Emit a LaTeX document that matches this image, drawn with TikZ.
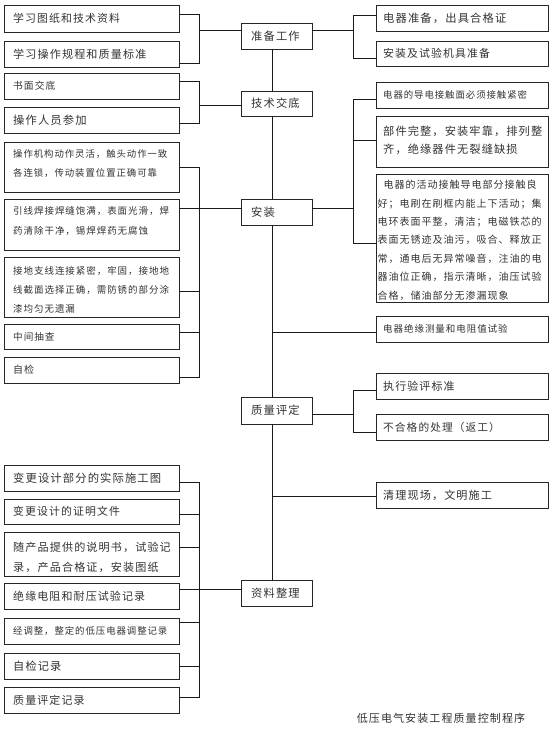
\documentclass[tikz,border=0pt]{standalone}
\usepackage{fontspec}
\setmainfont[LetterSpace=10]{Noto Sans CJK SC}
\usetikzlibrary{calc}
\newcommand\F[2]{\fontsize{#1}{#2}\selectfont}
\newcommand\BX[5]{\node[frame, minimum width={#4pt-#2pt}, minimum height={#5pt-#3pt}] (#1) at (#2,#3) {};}
\begin{document}
\begin{tikzpicture}[x=1pt,y=-1pt,
  frame/.style={draw=black!85, line width=0.8pt, inner sep=0pt, outer sep=0pt, anchor=north west},
  conn/.style={draw=black!90, line width=0.8pt},
  txt/.style={inner sep=0pt, align=left, text=black!80}]
\fill[white] (0,0) rectangle (554,735);
\useasboundingbox (0,0) rectangle (554,735);

% ---------- boxes ----------
% left column
\BX{L1}{4}{5}{179}{32}
\BX{L2}{4}{41}{179}{67}
\BX{L3}{4}{73}{179}{99}
\BX{L4}{4}{107}{179}{133}
\BX{L5}{4}{142}{179}{192}
\BX{L6}{4}{199}{179}{250}
\BX{L7}{4}{257}{179}{317}
\BX{L8}{4}{324}{179}{349}
\BX{L9}{4}{357}{179}{383}
\BX{L10}{4}{465}{179}{491}
\BX{L11}{4}{499}{179}{524}
\BX{L12}{4}{532}{179}{576}
\BX{L13}{4}{583}{179}{609}
\BX{L14}{4}{618}{179}{644}
\BX{L15}{4}{653}{179}{679}
\BX{L16}{4}{687}{179}{713}
% centre column
\BX{zb}{241}{23}{312}{49}
\BX{js}{241}{91}{312}{116}
\BX{az}{241}{199}{312}{225}
\BX{zl}{241}{397}{312}{424}
\BX{zz}{241}{580}{312}{606}
% right column
\BX{R1}{376}{5}{548}{31}
\BX{R2}{376}{41}{548}{66}
\BX{RA}{376}{82}{548}{108}
\BX{RB}{376}{116}{548}{167}
\BX{RC}{376}{174}{548}{302}
\BX{RD}{376}{316}{548}{342}
\BX{RE}{376}{373}{548}{399}
\BX{RF}{376}{414}{548}{440}
\BX{RG}{376}{482}{548}{508}

% ---------- texts ----------
\node[txt, anchor=west, font=\F{10.9}{13}] (L1t) at ($(L1.west)+(9,0)$) {学习图纸和技术资料};
\node[txt, anchor=west, font=\F{11.1}{13}] (L2t) at ($(L2.west)+(9,0)$) {学习操作规程和质量标准};
\node[txt, anchor=west, font=\F{9.8}{13}] (L3t) at ($(L3.west)+(9,0)$) {书面交底};
\node[txt, anchor=west, font=\F{11.3}{13}] (L4t) at ($(L4.west)+(9,0)$) {操作人员参加};
\node[txt, anchor=north west, font=\F{9.4}{19}] (L5t) at ($(L5.north west)+(9,7.3)$) {操作机构动作灵活，触头动作一致\\各连锁，传动装置位置正确可靠};
\node[txt, anchor=north west, font=\F{9.5}{20}] (L6t) at ($(L6.north west)+(9,7.3)$) {引线焊接焊缝饱满，表面光滑，焊\\药清除干净，锡焊焊药无腐蚀};
\node[txt, anchor=north west, font=\F{9.5}{19}] (L7t) at ($(L7.north west)+(9,9.3)$) {接地支线连接紧密，牢固，接地地\\线截面选择正确，需防锈的部分涂\\漆均匀无遗漏};
\node[txt, anchor=west, font=\F{9.6}{13}] (L8t) at ($(L8.west)+(9,0)$) {中间抽查};
\node[txt, anchor=west, font=\F{10}{13}] (L9t) at ($(L9.west)+(9,0)$) {自检};
\node[txt, anchor=west, font=\F{11.3}{13}] (L10t) at ($(L10.west)+(9,0)$) {变更设计部分的实际施工图};
\node[txt, anchor=west, font=\F{10.9}{13}] (L11t) at ($(L11.west)+(9,0)$) {变更设计的证明文件};
\node[txt, anchor=north west, font=\F{11.1}{20}] (L12t) at ($(L12.north west)+(9,9.4)$) {随产品提供的说明书，试验记\\录，产品合格证，安装图纸};
\node[txt, anchor=west, font=\F{11}{13}] (L13t) at ($(L13.west)+(9,0)$) {绝缘电阻和耐压试验记录};
\node[txt, anchor=west, font=\F{9.4}{13}] (L14t) at ($(L14.west)+(9,0)$) {经调整，整定的低压电器调整记录};
\node[txt, anchor=west, font=\F{11.2}{13}] (L15t) at ($(L15.west)+(9,0)$) {自检记录};
\node[txt, anchor=west, font=\F{11}{13}] (L16t) at ($(L16.west)+(9,0)$) {质量评定记录};

\node[txt, anchor=west, font=\F{11.3}{13}] (zbt) at ($(zb.west)+(10,0)$) {准备工作};
\node[txt, anchor=west, font=\F{11.3}{13}] (jst) at ($(js.west)+(10,0)$) {技术交底};
\node[txt, anchor=west, font=\F{11.3}{13}] (azt) at ($(az.west)+(10,0)$) {安装};
\node[txt, anchor=west, font=\F{11.3}{13}] (zlt) at ($(zl.west)+(10,0)$) {质量评定};
\node[txt, anchor=west, font=\F{11.3}{13}] (zzt) at ($(zz.west)+(10,0)$) {资料整理};

\node[txt, anchor=west, font=\F{11.3}{13}] (R1t) at ($(R1.west)+(7,0)$) {电器准备，出具合格证};
\node[txt, anchor=west, font=\F{10.9}{13}] (R2t) at ($(R2.west)+(7,0)$) {安装及试验机具准备};
\node[txt, anchor=west, font=\F{9.4}{13}] (RAt) at ($(RA.west)+(7,0)$) {电器的导电接触面必须接触紧密};
\node[txt, anchor=north west, font=\F{11.2}{18}] (RBt) at ($(RB.north west)+(7,9.4)$) {部件完整，安装牢靠，排列整\\齐，绝缘器件无裂缝缺损};
\node[txt, anchor=north west, font=\F{10}{18.4}] (RCt) at ($(RC.north west)+(1.5,6)$) {\hspace*{6pt}电器的活动接触导电部分接触良\\好；电刷在刷框内能上下活动；集\\电环表面平整，清洁；电磁铁芯的\\表面无锈迹及油污，吸合、释放正\\常，通电后无异常噪音，注油的电\\器油位正确，指示清晰，油压试验\\合格，储油部分无渗漏现象};
\node[txt, anchor=west, font=\F{9.5}{13}] (RDt) at ($(RD.west)+(7,0)$) {电器绝缘测量和电阻值试验};
\node[txt, anchor=west, font=\F{11}{13}] (REt) at ($(RE.west)+(7,0)$) {执行验评标准};
\node[txt, anchor=west, font=\F{10.7}{13}] (RFt) at ($(RF.west)+(7,0)$) {不合格的处理（返工）};
\node[txt, anchor=west, font=\F{11.1}{13}] (RGt) at ($(RG.west)+(7,0)$) {清理现场，文明施工};

\node[txt, font=\F{11}{13}] (cap) at (441,718) {低压电气安装工程质量控制程序};

% ---------- connectors ----------
\coordinate (sp) at (272,0);
\draw[conn] (zb.south -| sp) -- (js.north -| sp);
\draw[conn] (js.south -| sp) -- (az.north -| sp);
\draw[conn] (az.south -| sp) -- (zl.north -| sp);
\draw[conn] (zl.south -| sp) -- (zz.north -| sp);

% 准备工作
\coordinate (jA) at (199,30);
\draw[conn] ($(L1.north east)+(0,9)$) -| (jA);
\draw[conn] ($(L2.north east)+(0,22)$) -| (jA);
\draw[conn] (jA) -- (jA -| zb.west);
\coordinate (jE) at (353,30);
\draw[conn] (zb.east |- jE) -- (jE);
\draw[conn] ($(R1.north west)+(0,10)$) -| (jE);
\draw[conn] ($(R2.north west)+(0,17)$) -| (jE);

% 技术交底
\coordinate (jB) at (199,105);
\draw[conn] ($(L3.north east)+(0,8)$) -| (jB);
\draw[conn] ($(L4.north east)+(0,16)$) -| (jB);
\draw[conn] (jB) -- (jB -| js.west);

% 安装
\coordinate (jC) at (199,208);
\draw[conn] ($(L5.north east)+(0,25)$) -| (jC);
\draw[conn] ($(L6.north east)+(0,9)$) -| (jC);
\draw[conn] ($(L7.north east)+(0,34)$) -| (jC);
\draw[conn] ($(L8.north east)+(0,8)$) -| (jC);
\draw[conn] ($(L9.north east)+(0,20)$) -| (jC);
\draw[conn] (jC) -- (jC -| az.west);
\coordinate (jF) at (353,208);
\draw[conn] (az.east |- jF) -- (jF);
\draw[conn] ($(RA.north west)+(0,17)$) -| (jF);
\draw[conn] ($(RB.north west)+(0,24)$) -| (jF);
\draw[conn] ($(RC.north west)+(0,69)$) -| (jF);

% 电器绝缘测量 (from spine)
\coordinate (rd0) at ($(RD.north west)+(0,16)$);
\draw[conn] (rd0 -| sp) -- (rd0);

% 质量评定
\coordinate (jG) at (353,414);
\draw[conn] (zl.east |- jG) -- (jG);
\draw[conn] ($(RE.north west)+(0,17)$) -| (jG);
\draw[conn] ($(RF.north west)+(0,18)$) -| (jG);

% 清理现场 (from spine)
\coordinate (rg0) at ($(RG.north west)+(0,14)$);
\draw[conn] (rg0 -| sp) -- (rg0);

% 资料整理
\coordinate (jD) at (199,589);
\draw[conn] ($(L10.north east)+(0,17)$) -| (jD);
\draw[conn] ($(L11.north east)+(0,15)$) -| (jD);
\draw[conn] ($(L12.north east)+(0,15)$) -| (jD);
\draw[conn] ($(L13.north east)+(0,6)$) -| (jD);
\draw[conn] ($(L14.north east)+(0,4)$) -| (jD);
\draw[conn] ($(L15.north east)+(0,13)$) -| (jD);
\draw[conn] ($(L16.north east)+(0,10)$) -| (jD);
\draw[conn] (jD) -- (jD -| zz.west);
\end{tikzpicture}
\end{document}
